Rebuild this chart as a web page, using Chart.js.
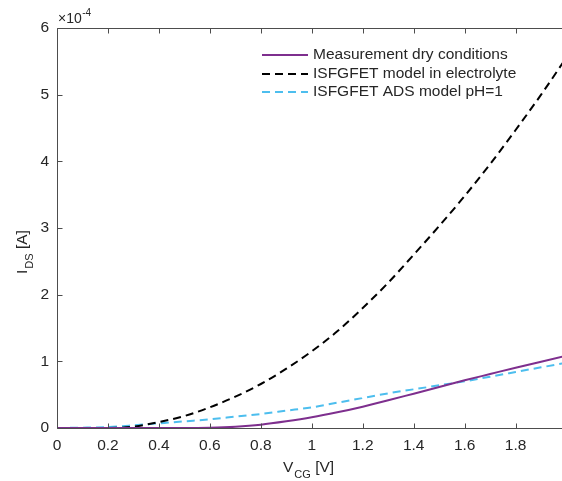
<!DOCTYPE html>
<html>
<head>
<meta charset="utf-8">
<script src="https://cdn.jsdelivr.net/npm/chart.js@4"></script>
<style>
html,body{margin:0;padding:0;background:#fff;}
canvas{display:block;}
</style>
</head>
<body>
<canvas id="c" width="562" height="481"></canvas>
<script>
// V_CG [V]
const vcg = [0,0.1,0.2,0.3,0.4,0.5,0.6,0.7,0.8,0.9,1.0,1.1,1.2,1.3,1.4,1.5,1.6,1.7,1.8,1.9,2.0];
// I_DS in units of 1e-4 A
const measDry = [0,0,0,0,0,0,0.005,0.02,0.05,0.1,0.16,0.235,0.32,0.415,0.515,0.615,0.715,0.81,0.905,0.995,1.085];
const modelElectrolyte = [0,0,0,0.02,0.09,0.18,0.31,0.47,0.66,0.89,1.15,1.45,1.8,2.18,2.6,3.03,3.48,3.96,4.47,5.0,5.56];
const adsModel = [0,0.005,0.015,0.04,0.07,0.1,0.13,0.17,0.21,0.26,0.31,0.38,0.45,0.52,0.58,0.64,0.7,0.77,0.84,0.91,0.98];
const xTicks = [0,0.2,0.4,0.6,0.8,1,1.2,1.4,1.6,1.8];
const xTickLabels = ['0','0.2','0.4','0.6','0.8','1','1.2','1.4','1.6','1.8'];
const yTicks = [0,1,2,3,4,5,6];
const seriesNames = ['Measurement dry conditions','ISFGFET model in electrolyte','ISFGFET ADS model pH=1'];

const FONT = '"Liberation Sans", Arial, Helvetica, sans-serif';
const TXT = '#262626';
const AX = '#4d4d4d';

function pts(ys){ return vcg.map((x,i)=>({x:x,y:ys[i]})); }

const matlabPlugin = {
  id:'matlab',
  afterDraw(chart){
    const {ctx, chartArea:a, scales:{x,y}} = chart;
    ctx.save();
    ctx.strokeStyle = AX; ctx.lineWidth = 1;
    ctx.beginPath();
    const L = Math.round(a.left)+0.5, B = Math.round(a.bottom)+0.5, T = Math.round(a.top)+0.5;
    ctx.moveTo(L, T); ctx.lineTo(L, B); ctx.lineTo(a.right+2, B);
    ctx.moveTo(L, T); ctx.lineTo(a.right+2, T);
    xTicks.forEach(v=>{
      const px = Math.round(x.getPixelForValue(v))+0.5;
      ctx.moveTo(px, B); ctx.lineTo(px, B-5);
      ctx.moveTo(px, T); ctx.lineTo(px, T+5);
    });
    yTicks.forEach(v=>{
      const py = Math.round(y.getPixelForValue(v))+0.5;
      ctx.moveTo(L, py); ctx.lineTo(L+5, py);
    });
    ctx.stroke();

    // exponent label
    ctx.fillStyle = TXT;
    ctx.textBaseline = 'alphabetic';
    ctx.textAlign = 'left';
    ctx.font = '14px ' + FONT;
    ctx.fillText('\u00d710', 58, 23);
    const w10 = ctx.measureText('\u00d710').width;
    ctx.font = '10px ' + FONT;
    ctx.fillText('-4', 58 + w10 + 0.5, 16);

    // x title
    ctx.font = '15.5px ' + FONT;
    ctx.fillText('V', 283, 472);
    let wx = ctx.measureText('V').width;
    ctx.font = '11px ' + FONT;
    ctx.fillText('CG', 283 + wx + 1, 478);
    let wcg = ctx.measureText('CG').width;
    ctx.font = '15.5px ' + FONT;
    ctx.fillText(' [V]', 283 + wx + 1 + wcg, 472);

    // y title (rotated)
    ctx.save();
    ctx.translate(27, 274);
    ctx.rotate(-Math.PI/2);
    ctx.font = '15.5px ' + FONT;
    ctx.fillText('I', 0, 0);
    let wi = ctx.measureText('I').width;
    ctx.font = '11px ' + FONT;
    ctx.fillText('DS', wi + 1, 6);
    let wds = ctx.measureText('DS').width;
    ctx.font = '15.5px ' + FONT;
    ctx.fillText(' [A]', wi + 1 + wds, 0);
    ctx.restore();

    // legend
    const rows = [55, 74, 92];
    chart.data.datasets.forEach((ds,i)=>{
      ctx.beginPath();
      ctx.strokeStyle = ds.borderColor;
      ctx.lineWidth = ds.borderWidth;
      ctx.setLineDash(ds.borderDash || []);
      ctx.moveTo(262, rows[i]); ctx.lineTo(308, rows[i]);
      ctx.stroke();
      ctx.setLineDash([]);
      ctx.fillStyle = TXT;
      ctx.font = '15.5px ' + FONT;
      ctx.textBaseline = 'middle';
      ctx.fillText(ds.label, 313, rows[i]);
    });
    ctx.restore();
  }
};

new Chart(document.getElementById('c'), {
  type:'line',
  data:{
    datasets:[
      {label:seriesNames[0], data:pts(measDry), borderColor:'#7E2F8E', borderWidth:2, pointRadius:0, cubicInterpolationMode:'monotone', fill:false},
      {label:seriesNames[1], data:pts(modelElectrolyte), borderColor:'#000000', borderWidth:2, borderDash:[8,5], pointRadius:0, cubicInterpolationMode:'monotone', fill:false},
      {label:seriesNames[2], data:pts(adsModel), borderColor:'#4DBEEE', borderWidth:2, borderDash:[8,5], pointRadius:0, cubicInterpolationMode:'monotone', fill:false}
    ]
  },
  options:{
    responsive:false,
    devicePixelRatio:1,
    animation:false,
    layout:{padding:{top:28, right:0, left:0, bottom:0}},
    plugins:{legend:{display:false}, tooltip:{enabled:false}},
    scales:{
      x:{
        type:'linear', min:0, max:1.982,
        afterBuildTicks(s){ s.ticks = xTicks.map(v=>({value:v})); },
        afterFit(s){ s.height = 53; },
        grid:{display:false, drawTicks:false},
        border:{display:false},
        ticks:{
          padding:8, color:TXT, font:{family:FONT, size:15.5}, maxRotation:0, autoSkip:false,
          callback(v){ const i = xTicks.indexOf(v); return i>=0 ? xTickLabels[i] : ''; }
        }
      },
      y:{
        type:'linear', min:0, max:6,
        afterBuildTicks(s){ s.ticks = yTicks.map(v=>({value:v})); },
        afterFit(s){ s.width = 57; },
        grid:{display:false, drawTicks:false},
        border:{display:false},
        ticks:{padding:8, color:TXT, font:{family:FONT, size:15.5}, callback(v){ return String(v); }}
      }
    }
  },
  plugins:[matlabPlugin]
});
</script>
</body>
</html>
